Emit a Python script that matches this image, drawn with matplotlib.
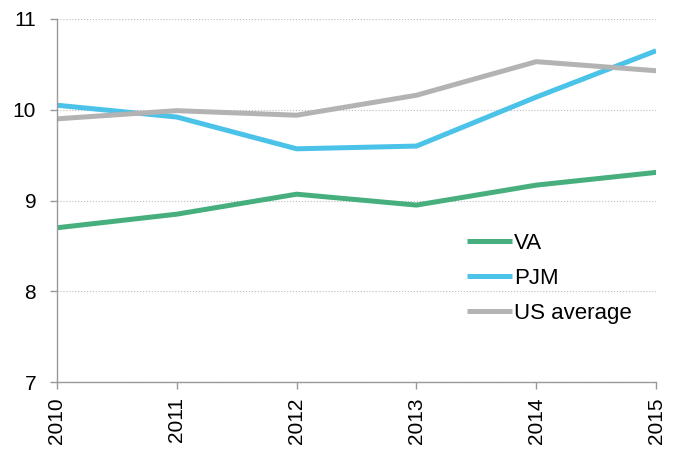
import matplotlib
matplotlib.use("Agg")
import matplotlib.pyplot as plt

years = [2010, 2011, 2012, 2013, 2014, 2015]
va = [8.70, 8.85, 9.07, 8.95, 9.17, 9.31]
pjm = [10.05, 9.92, 9.57, 9.60, 10.14, 10.65]
us_avg = [9.90, 9.99, 9.94, 10.16, 10.53, 10.43]

plt.rcParams['font.family'] = ['Liberation Sans', 'DejaVu Sans']

fig = plt.figure(figsize=(6.75, 4.49), dpi=100)
ax = fig.add_axes([0.0844, 0.149, 0.8876, 0.8087])

ax.plot(years, va, color="#47AF7D", lw=3.6, label="VA", solid_capstyle="butt")
ax.plot(years, pjm, color="#4BC3E8", lw=3.6, label="PJM", solid_capstyle="butt")
ax.plot(years, us_avg, color="#B3B3B3", lw=3.6, label="US average", solid_capstyle="butt")

ax.set_xlim(2010, 2015)
ax.set_ylim(7, 11)
ax.set_xticks(years)
ax.set_xticklabels([str(y) for y in years], rotation=90)
ax.set_yticks([7, 8, 9, 10, 11])
ax.tick_params(axis="both", labelsize=15, color="#999999", length=5, width=1)
ax.tick_params(axis="y", pad=10)
ax.tick_params(axis="x", pad=6)

ax.grid(axis="y", color="#BBBBBB", linestyle=":", linewidth=0.8)
ax.set_axisbelow(True)
for side in ["top", "right"]:
    ax.spines[side].set_visible(False)
for side in ["left", "bottom"]:
    ax.spines[side].set_color("#999999")
    ax.spines[side].set_linewidth(1)

ax.legend(loc="upper left", bbox_to_anchor=(0.67, 0.435), frameon=False,
          fontsize=16, handlelength=2.0, handletextpad=0.1, labelspacing=0.62,
          borderaxespad=0)

fig.savefig("out.png", dpi=100)
